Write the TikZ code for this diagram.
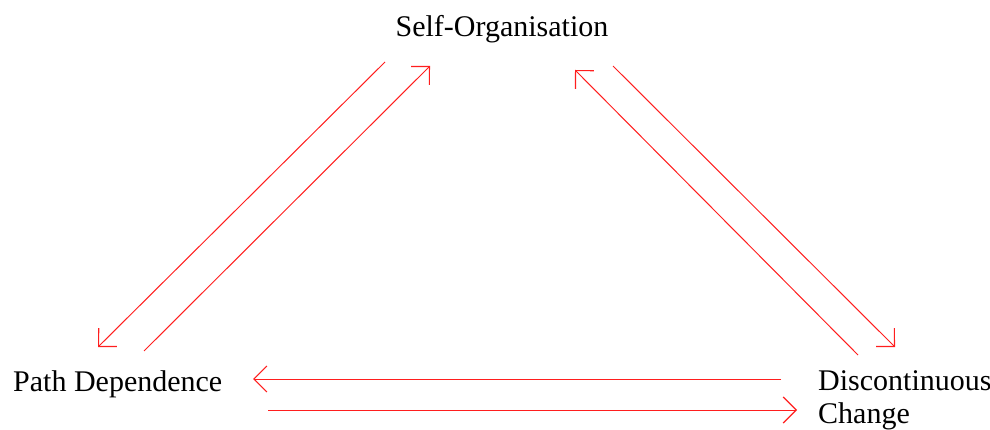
\documentclass[tikz,border=0pt]{standalone}
\usepackage{fontspec}
\setmainfont{Liberation Serif}
\usetikzlibrary{arrows.meta}
\begin{document}
\begin{tikzpicture}[x=1pt,y=-1pt,
  lbl/.style={inner sep=0pt,font=\fontsize{30}{33}\selectfont},
  conn/.style={draw={rgb,255:red,255;green,30;blue,30},line width=1pt,
    -{Straight Barb[length=13,width=26,line width=1.2pt]}}]
\useasboundingbox (0,0) rectangle (990,430);
\node[lbl,anchor=base] (so) at (502,37) {Self-Organisation};
\node[lbl,anchor=base west] (pd) at (13,391) {Path Dependence};
\node[lbl,anchor=base west,align=left] (dc) at (818,423) {Discontinuous\\Change};
% arrow end points
\coordinate (a1s) at (385,62);  \coordinate (a1e) at (98,347);
\coordinate (a2s) at (144,351); \coordinate (a2e) at (430,66);
\coordinate (a3s) at (858,355); \coordinate (a3e) at (575,70);
\coordinate (a4s) at (613,66);  \coordinate (a4e) at (895,347);
\coordinate (a5s) at (781,379); \coordinate (a5e) at (253,379);
\coordinate (a6s) at (268,410); \coordinate (a6e) at (797,410);
\draw[conn] (a1s) -- (a1e);
\draw[conn] (a2s) -- (a2e);
\draw[conn] (a3s) -- (a3e);
\draw[conn] (a4s) -- (a4e);
\draw[conn] (a5s) -- (a5e);
\draw[conn] (a6s) -- (a6e);
\end{tikzpicture}
\end{document}
